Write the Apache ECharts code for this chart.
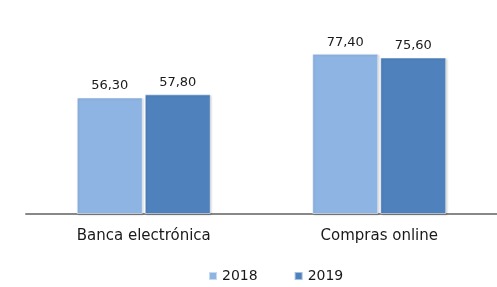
<!DOCTYPE html>
<html>
<head>
<meta charset="utf-8">
<script src="https://cdn.jsdelivr.net/npm/echarts@6/dist/echarts.min.js"></script>
<style>
  html, body { margin: 0; padding: 0; background: #fff; }
  #chart { width: 497px; height: 287px; }
</style>
</head>
<body>
<div id="chart"></div>
<script>
const categories = ['Banca electrónica', 'Compras online']
const years = ['2018', '2019']
const values2018 = [56.3, 77.4]
const values2019 = [57.8, 75.6]
const colors = ['#8EB4E3', '#4F81BD']

const chart = echarts.init(document.getElementById('chart'))

// valores con coma decimal
const fmt = ({ value }) => value.toFixed(2).replace('.', ',')

const makeSeries = (name, data, color) => ({
  name: name,
  type: 'bar',
  barWidth: 66,
  barGap: '3%',
  data: data,
  itemStyle: {
    color: color,
    borderColor: 'rgba(255,255,255,0.5)',
    borderWidth: 1,
    shadowColor: 'rgba(0,0,0,0.18)',
    shadowBlur: 2,
    shadowOffsetX: 1,
    shadowOffsetY: 1
  },
  label: {
    show: true,
    position: 'top',
    distance: 5,
    color: '#1a1a1a',
    fontFamily: 'DejaVu Sans',
    fontSize: 13,
    formatter: fmt
  }
})

chart.setOption({
  animation: false,
  color: colors,
  grid: { left: 26, right: -5, top: 7, bottom: 73 },
  legend: {
    top: 264,
    left: 203,
    icon: 'rect',
    itemWidth: 8,
    itemHeight: 8,
    itemGap: 36,
    textStyle: { fontFamily: 'DejaVu Sans', fontSize: 14, color: '#1a1a1a' },
    data: years
  },
  xAxis: {
    type: 'category',
    data: categories,
    axisTick: { show: false },
    axisLine: { lineStyle: { color: '#888888', width: 2 } },
    axisLabel: {
      fontFamily: 'DejaVu Sans',
      fontSize: 15,
      color: '#1a1a1a',
      margin: 15
    }
  },
  yAxis: {
    type: 'value',
    min: 0,
    max: 100,
    show: false,
    splitLine: { show: false }
  },
  series: [
    makeSeries(years[0], values2018, colors[0]),
    makeSeries(years[1], values2019, colors[1])
  ]
})
</script>
</body>
</html>
